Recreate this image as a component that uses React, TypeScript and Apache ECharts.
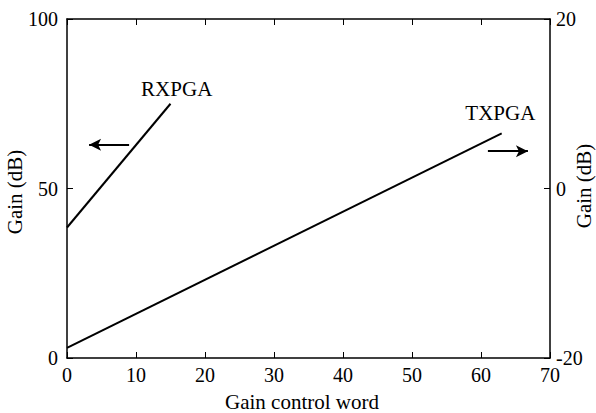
import React, { useEffect, useRef } from "react";
import * as echarts from "echarts";

const xTicks = [0, 10, 20, 30, 40, 50, 60, 70];
const leftTicks = [0, 50, 100];
const rightTicks = [-20, 0, 20];

// RXPGA (left axis, dB)
const rxWord = [0, 15];
const rxGain = [38.5, 75];
// TXPGA (right axis, dB)
const txWord = [0, 63];
const txGain = [-18.8, 6.5];

// annotation arrows [x0, y0, x1, y1]
const rxArrow = [9.0, 62.9, 3.2, 62.9];
const txArrow = [61.0, 4.4, 66.8, 4.4];
// label positions [x, y]
const rxLabelPos = [15.9, 79.4];
const txLabelPos = [62.8, 8.9];

const FONT = "'Liberation Serif', 'Times New Roman', Times, serif";

export default function App() {
  const ref = useRef<HTMLDivElement>(null);
  useEffect(() => {
    const chart = echarts.init(ref.current!, null, { renderer: "svg" });
    const black = "#000";
    const tickLabel = { fontFamily: FONT, fontSize: 20, color: black };
    const xCommon = {
      type: "value",
      min: xTicks[0],
      max: xTicks[xTicks.length - 1],
      interval: 10,
      axisLine: { onZero: false, lineStyle: { color: black, width: 1.5 } },
      axisTick: { inside: true, length: 6, lineStyle: { color: black } },
      splitLine: { show: false },
    };
    chart.setOption({
      animation: false,
      backgroundColor: "#fff",
      grid: { left: 67, right: 46, top: 19, bottom: 55 },
      xAxis: [
        { ...xCommon, position: "bottom", axisLabel: { ...tickLabel, margin: 7, showMaxLabel: true } },
        { ...xCommon, position: "top", axisLabel: { show: false } },
      ],
      yAxis: [
        {
          type: "value",
          min: leftTicks[0],
          max: leftTicks[leftTicks.length - 1],
          interval: 50,
          position: "left",
          axisLine: { show: true, onZero: false, lineStyle: { color: black, width: 1.5 } },
          axisTick: { show: true, inside: true, length: 6, lineStyle: { color: black } },
          axisLabel: { ...tickLabel, margin: 9 },
          splitLine: { show: false },
        },
        {
          type: "value",
          min: rightTicks[0],
          max: rightTicks[rightTicks.length - 1],
          interval: 20,
          position: "right",
          axisLine: { show: true, onZero: false, lineStyle: { color: black, width: 1.5 } },
          axisTick: { show: true, inside: true, length: 6, lineStyle: { color: black } },
          axisLabel: { ...tickLabel, margin: 6 },
          splitLine: { show: false },
        },
      ],
      graphic: [
        {
          type: "text",
          x: 15,
          y: 192,
          rotation: Math.PI / 2,
          style: { text: "Gain (dB)", fontFamily: FONT, fontSize: 21, fill: black, align: "center", verticalAlign: "middle" },
        },
        {
          type: "text",
          x: 584,
          y: 186,
          rotation: Math.PI / 2,
          style: { text: "Gain (dB)", fontFamily: FONT, fontSize: 21, fill: black, align: "center", verticalAlign: "middle" },
        },
        {
          type: "text",
          x: 302,
          y: 402,
          style: { text: "Gain control word", fontFamily: FONT, fontSize: 21, fill: black, align: "center", verticalAlign: "middle" },
        },
      ],
      series: [
        {
          name: "RXPGA",
          type: "line",
          xAxisIndex: 0,
          yAxisIndex: 0,
          data: rxWord.map((w, i) => [w, rxGain[i]]),
          symbol: "none",
          lineStyle: { color: black, width: 2 },
          markLine: {
            silent: true,
            symbol: ["none", "arrow"],
            symbolSize: [9, 12],
            label: { show: false },
            lineStyle: { color: black, width: 2, type: "solid" },
            data: [[{ coord: [rxArrow[0], rxArrow[1]] }, { coord: [rxArrow[2], rxArrow[3]] }]],
          },
          markPoint: {
            symbol: "circle",
            symbolSize: 0,
            label: { show: true, position: "inside", formatter: "RXPGA", fontFamily: FONT, fontSize: 21, color: black },
            data: [{ coord: rxLabelPos }],
          },
        },
        {
          name: "TXPGA",
          type: "line",
          xAxisIndex: 0,
          yAxisIndex: 1,
          data: txWord.map((w, i) => [w, txGain[i]]),
          symbol: "none",
          lineStyle: { color: black, width: 2 },
          markLine: {
            silent: true,
            symbol: ["none", "arrow"],
            symbolSize: [9, 12],
            label: { show: false },
            lineStyle: { color: black, width: 2, type: "solid" },
            data: [[{ coord: [txArrow[0], txArrow[1]] }, { coord: [txArrow[2], txArrow[3]] }]],
          },
          markPoint: {
            symbol: "circle",
            symbolSize: 0,
            label: { show: true, position: "inside", formatter: "TXPGA", fontFamily: FONT, fontSize: 21, color: black },
            data: [{ coord: txLabelPos }],
          },
        },
      ],
    });
    return () => chart.dispose();
  }, []);
  return <div ref={ref} style={{ width: 596, height: 413, position: "absolute", left: 0, top: 0 }} />;
}
